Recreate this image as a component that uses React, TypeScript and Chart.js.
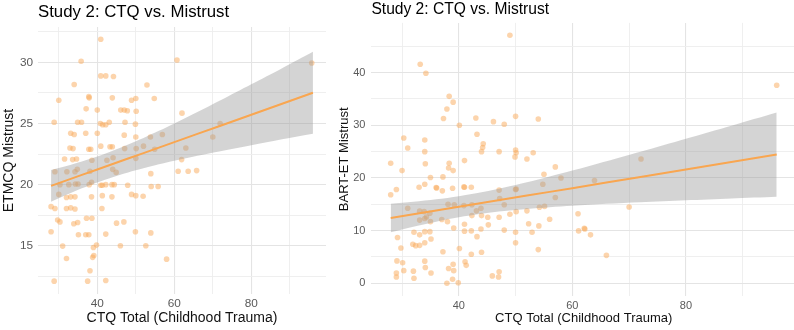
import { useEffect, useRef } from "react";
import { Chart, registerables } from "chart.js";

Chart.register(...registerables);

const FONT = '"Liberation Sans", Arial, Helvetica, sans-serif';
const POINT_COLOR = "rgba(250, 170, 90, 0.5)";
const FIT_COLOR = "#F9A650";
const BAND_COLOR = "rgba(153, 153, 153, 0.42)";
const GRID_MAJOR = "#E4E4E4";
const GRID_MINOR = "#EDEDED";
const TICK_COLOR = "#5A5A5A";

// Study 2, ETMCQ mistrust against CTQ total
const etmcqCtq = [
  40.9, 35.8, 60.7, 95.7, 34.0, 40.9, 42.2, 44.2, 52.9, 30.0,
  37.8, 37.9, 43.9, 54.8, 48.9, 50.0, 37.1, 40.0, 46.1, 47.0,
  47.8, 50.1, 62.0, 28.8, 34.9, 35.9, 40.8, 41.4, 42.2, 43.1,
  47.2, 49.9, 71.9, 33.1, 34.0, 37.0, 40.0, 47.0, 50.0, 53.8,
  56.9, 70.0, 32.9, 33.7, 37.8, 38.3, 40.9, 43.3, 43.9, 47.1,
  50.1, 52.0, 54.9, 63.0, 31.5, 33.6, 34.6, 38.6, 42.5, 44.1,
  50.0, 61.9, 29.0, 32.1, 34.2, 38.1, 34.8, 44.0, 44.9, 53.9,
  61.0, 63.6, 65.8, 30.3, 32.6, 34.3, 35.0, 37.9, 38.5, 40.9,
  41.3, 42.2, 43.8, 44.4, 47.9, 54.0, 55.8, 30.0, 32.0, 33.1,
  34.2, 38.5, 41.3, 43.8, 48.9, 50.0, 51.9, 28.0, 29.0, 32.0,
  33.1, 34.2, 41.2, 29.7, 30.3, 33.9, 34.9, 37.2, 38.6, 45.0,
  46.9, 28.0, 35.1, 37.0, 37.8, 42.2, 49.9, 53.9, 31.0, 39.8,
  39.0, 39.1, 38.8, 46.0, 52.6, 32.0, 58.0, 38.1, 28.8, 37.5,
  42.2,
];
const etmcqScore = [
  31.9, 30.1, 30.2, 29.95, 28.2, 28.9, 28.9, 28.85, 28.15, 26.9,
  27.2, 27.1, 27.1, 27.05, 26.9, 27.05, 26.2, 26.1, 26.1, 26.1,
  26.05, 26.0, 25.85, 25.1, 25.1, 25.1, 25.0, 24.9, 24.9, 25.1,
  25.1, 24.95, 25.0, 24.2, 24.1, 24.2, 24.2, 24.05, 23.9, 23.9,
  24.1, 23.9, 23.0, 22.95, 22.9, 22.9, 23.15, 23.1, 23.1, 22.95,
  22.95, 23.15, 22.9, 23.0, 22.1, 22.05, 22.1, 22.0, 22.0, 22.2,
  22.15, 22.05, 21.05, 21.05, 21.05, 21.1, 21.25, 21.25, 21.0, 20.9,
  21.1, 21.1, 21.15, 20.0, 20.0, 20.05, 20.05, 20.0, 20.2, 19.95,
  19.95, 20.0, 20.0, 20.0, 19.95, 19.85, 19.85, 19.2, 18.95, 19.0,
  19.0, 19.0, 19.1, 19.0, 19.2, 19.1, 19.05, 18.2, 18.05, 18.05,
  18.1, 18.0, 18.05, 17.1, 16.95, 16.8, 16.9, 17.25, 17.25, 16.85,
  16.95, 16.15, 15.9, 15.9, 15.9, 15.95, 16.15, 16.05, 14.97, 15.05,
  14.85, 14.2, 14.05, 15.0, 15.0, 13.95, 13.9, 12.95, 12.1, 12.1,
  12.15,
];

// Linear fit and 95% band, sampled along CTQ
const fitCtq = [28, 32, 36, 40, 44, 48, 52, 56, 60, 66, 72, 80, 88, 96];
const etmcqFit = [19.9, 20.35, 20.8, 21.24, 21.69, 22.14, 22.58, 23.03, 23.48, 24.15, 24.82, 25.72, 26.62, 27.52];
const etmcqUpper = [21.2, 21.53, 21.9, 22.3, 22.77, 23.28, 23.82, 24.4, 25.01, 25.94, 26.9, 28.21, 29.53, 30.87];
const etmcqLower = [18.6, 19.17, 19.7, 20.18, 20.61, 21.0, 21.34, 21.66, 21.95, 22.36, 22.74, 23.23, 23.71, 24.17];

// Study 2, BART-ET mistrust against CTQ total
const bartCtq = [
  49.0, 33.2, 34.2, 38.3, 39.0, 37.9, 37.3, 43.0, 50.0, 54.0,
  46.1, 48.0, 40.1, 96.0, 30.3, 31.0, 34.0, 34.0, 43.2, 44.3,
  44.2, 44.0, 47.1, 50.0, 50.1, 49.9, 53.1, 52.0, 41.0, 72.1,
  28.0, 30.0, 34.1, 38.3, 38.2, 39.0, 35.0, 37.2, 55.0, 57.0,
  58.0, 63.9, 29.0, 28.0, 33.0, 34.0, 36.0, 36.1, 37.1, 38.9,
  41.0, 40.9, 42.2, 47.1, 50.1, 50.0, 54.8, 47.2, 57.0, 31.0,
  33.1, 33.9, 34.9, 34.3, 34.0, 33.1, 38.1, 39.2, 40.9, 42.3,
  43.9, 43.1, 44.0, 45.1, 42.3, 37.0, 38.0, 35.0, 48.0, 54.2,
  55.1, 52.0, 50.1, 49.0, 47.1, 56.0, 52.3, 54.1, 48.0, 50.0,
  52.9, 50.0, 54.0, 61.0, 61.1, 62.1, 62.2, 63.2, 66.0, 70.0,
  39.1, 41.0, 41.0, 42.2, 43.9, 45.2, 32.1, 33.1, 34.0, 34.9,
  29.2, 35.1, 43.2, 31.9, 32.4, 33.1, 34.0, 29.8, 37.2, 40.1,
  42.2, 44.0, 29.1, 30.1, 34.0, 34.1, 35.1, 30.3, 32.0, 32.1,
  29.0, 29.0, 38.2, 39.0, 39.1, 38.9, 39.9, 37.9, 41.1, 41.3,
  45.9, 47.1, 47.0,
];
const bartScore = [
  47.1, 41.6, 39.9, 35.5, 34.4, 33.1, 31.3, 31.4, 31.7, 31.2,
  30.7, 30.2, 30.0, 37.6, 27.6, 25.7, 27.2, 25.0, 28.3, 26.5,
  25.8, 25.0, 25.0, 25.3, 24.8, 24.0, 24.8, 23.6, 23.3, 23.6,
  22.8, 21.4, 22.7, 22.8, 21.9, 21.4, 20.1, 20.2, 20.7, 22.1,
  20.0, 19.5, 17.8, 16.8, 18.25, 18.8, 18.2, 18.1, 17.55, 18.05,
  18.25, 18.3, 18.25, 17.7, 17.9, 17.8, 18.8, 16.1, 16.3, 14.25,
  13.7, 13.6, 13.3, 12.6, 12.3, 12.0, 15.0, 14.9, 14.75, 14.9,
  14.25, 13.75, 12.85, 12.55, 12.85, 12.1, 11.7, 11.7, 14.9, 14.45,
  14.6, 13.75, 13.6, 13.1, 12.55, 12.15, 11.3, 10.9, 10.1, 9.7,
  9.7, 7.7, 6.4, 13.2, 9.95, 10.45, 10.3, 9.2, 5.3, 14.5,
  10.5, 11.2, 9.9, 9.95, 10.3, 11.1, 9.7, 9.2, 9.8, 9.8,
  8.7, 8.4, 8.85, 7.4, 7.15, 7.2, 7.7, 6.7, 6.0, 6.6,
  5.5, 5.9, 4.25, 3.9, 4.2, 3.0, 1.95, 2.4, 2.3, 0.95,
  1.95, 1.2, 2.8, 3.6, 2.4, 0.75, 0.1, 0.0, 4.1, 3.4,
  1.4, 2.2, 1.2,
];
const bartFit = [12.4, 13.11, 13.82, 14.52, 15.23, 15.94, 16.65, 17.36, 18.06, 19.13, 20.19, 21.61, 23.02, 24.44];
const bartUpper = [15.11, 15.48, 15.94, 16.53, 17.27, 18.17, 19.18, 20.27, 21.4, 23.18, 24.99, 27.46, 29.93, 32.44];
const bartLower = [9.69, 10.74, 11.7, 12.52, 13.19, 13.71, 14.12, 14.45, 14.72, 15.08, 15.39, 15.76, 16.11, 16.44];

// Axis breaks (major breaks carry labels, minor ones only grid lines)
const xBreaks = [30, 40, 50, 60, 70, 80, 90];
const etmcqBreaks = [12.5, 15, 17.5, 20, 22.5, 25, 27.5, 30, 32.5];
const bartBreaks = [0, 5, 10, 15, 20, 25, 30, 35, 40, 45];

type PanelSpec = {
  title: string;
  titleSize: number;
  titleBaseline: number;
  xTitle: string;
  yTitle: string;
  axisTitleSize: number;
  tickSize: number;
  xs: number[];
  ys: number[];
  fit: number[];
  upper: number[];
  lower: number[];
  xMin: number;
  xMax: number;
  yMin: number;
  yMax: number;
  yBreaks: number[];
  yMajor: number;
  xMajor: number;
  areaTop: number;
  areaRight: number;
  yAxisWidth: number;
  xAxisHeight: number;
  yTickPad: number;
  xTickPad: number;
  yTitlePad: number;
  xTitlePad: number;
};

function isMajor(v: number, step: number) {
  return Math.abs(v / step - Math.round(v / step)) < 1e-6;
}

function buildChart(canvas: HTMLCanvasElement, p: PanelSpec) {
  const titlePlugin = {
    id: "panelTitle",
    afterDraw(chart: any) {
      const { ctx, chartArea } = chart;
      ctx.save();
      ctx.font = `${p.titleSize}px ${FONT}`;
      ctx.fillStyle = "#000000";
      ctx.textAlign = "left";
      ctx.textBaseline = "alphabetic";
      ctx.fillText(p.title, chartArea.left, p.titleBaseline);
      ctx.restore();
    },
  };

  return new Chart(canvas, {
    type: "line",
    data: {
      datasets: [
        {
          label: "fit",
          data: fitCtq.map((x, i) => ({ x, y: p.fit[i] })),
          borderColor: FIT_COLOR,
          borderWidth: 2,
          pointRadius: 0,
          fill: false,
          tension: 0,
          order: 0,
        },
        {
          label: "upper",
          data: fitCtq.map((x, i) => ({ x, y: p.upper[i] })),
          borderColor: "rgba(0,0,0,0)",
          borderWidth: 1,
          backgroundColor: BAND_COLOR,
          pointRadius: 0,
          fill: "+1",
          tension: 0.3,
          order: 1,
        },
        {
          label: "lower",
          data: fitCtq.map((x, i) => ({ x, y: p.lower[i] })),
          borderColor: "rgba(0,0,0,0)",
          borderWidth: 1,
          pointRadius: 0,
          fill: false,
          tension: 0.3,
          order: 1,
        },
        {
          label: "points",
          data: p.xs.map((x, i) => ({ x, y: p.ys[i] })),
          showLine: false,
          pointRadius: 2.8,
          pointBackgroundColor: POINT_COLOR,
          pointBorderColor: "rgba(0,0,0,0)",
          pointBorderWidth: 0,
          order: 2,
        },
      ],
    },
    options: {
      responsive: false,
      maintainAspectRatio: false,
      animation: false,
      devicePixelRatio: 1,
      layout: { padding: { top: p.areaTop, left: 0, right: p.areaRight, bottom: 0 } },
      plugins: {
        legend: { display: false },
        tooltip: { enabled: false },
        title: { display: false },
      },
      scales: {
        x: {
          type: "linear",
          min: p.xMin,
          max: p.xMax,
          afterBuildTicks: (s: any) => {
            s.ticks = xBreaks.map((v) => ({ value: v }));
          },
          afterFit: (s: any) => {
            s.height = p.xAxisHeight;
          },
          ticks: {
            autoSkip: false,
            maxRotation: 0,
            padding: p.xTickPad,
            color: TICK_COLOR,
            font: { family: FONT, size: p.tickSize },
            callback: (v: any) => (isMajor(Number(v), p.xMajor) ? String(v) : ""),
          },
          grid: {
            drawTicks: false,
            color: (c: any) => (c.tick && isMajor(c.tick.value, p.xMajor) ? GRID_MAJOR : GRID_MINOR),
            lineWidth: (c: any) => (c.tick && isMajor(c.tick.value, p.xMajor) ? 1.1 : 0.9),
          },
          border: { display: false },
          title: {
            display: true,
            text: p.xTitle,
            color: "#111111",
            font: { family: FONT, size: p.axisTitleSize },
            padding: { top: 0, bottom: p.xTitlePad },
          },
        },
        y: {
          type: "linear",
          min: p.yMin,
          max: p.yMax,
          afterBuildTicks: (s: any) => {
            s.ticks = p.yBreaks.map((v) => ({ value: v }));
          },
          afterFit: (s: any) => {
            s.width = p.yAxisWidth;
          },
          ticks: {
            autoSkip: false,
            padding: p.yTickPad,
            color: TICK_COLOR,
            font: { family: FONT, size: p.tickSize },
            callback: (v: any) => (isMajor(Number(v), p.yMajor) ? String(v) : ""),
          },
          grid: {
            drawTicks: false,
            color: (c: any) => (c.tick && isMajor(c.tick.value, p.yMajor) ? GRID_MAJOR : GRID_MINOR),
            lineWidth: (c: any) => (c.tick && isMajor(c.tick.value, p.yMajor) ? 1.1 : 0.9),
          },
          border: { display: false },
          title: {
            display: true,
            text: p.yTitle,
            color: "#111111",
            font: { family: FONT, size: p.axisTitleSize },
            padding: { top: p.yTitlePad, bottom: 0 },
          },
        },
      },
    },
    plugins: [titlePlugin],
  } as any);
}

const leftPanel: PanelSpec = {
  title: "Study 2: CTQ vs. Mistrust",
  titleSize: 16.8,
  titleBaseline: 17,
  xTitle: "CTQ Total (Childhood Trauma)",
  yTitle: "ETMCQ Mistrust",
  axisTitleSize: 14,
  tickSize: 11.8,
  xs: etmcqCtq,
  ys: etmcqScore,
  fit: etmcqFit,
  upper: etmcqUpper,
  lower: etmcqLower,
  xMin: 24.6,
  xMax: 99.4,
  yMin: 11.05,
  yMax: 32.9,
  yBreaks: etmcqBreaks,
  yMajor: 5,
  xMajor: 20,
  areaTop: 27,
  areaRight: 4,
  yAxisWidth: 38,
  xAxisHeight: 36,
  yTickPad: 5,
  xTickPad: 3,
  yTitlePad: 1,
  xTitlePad: 3.6,
};

const rightPanel: PanelSpec = {
  title: "Study 2: CTQ vs. Mistrust",
  titleSize: 15.6,
  titleBaseline: 13.5,
  xTitle: "CTQ Total (Childhood Trauma)",
  yTitle: "BART-ET Mistrust",
  axisTitleSize: 13,
  tickSize: 11,
  xs: bartCtq,
  ys: bartScore,
  fit: bartFit,
  upper: bartUpper,
  lower: bartLower,
  xMin: 24.6,
  xMax: 99.4,
  yMin: -2.36,
  yMax: 49.45,
  yBreaks: bartBreaks,
  yMajor: 10,
  xMajor: 20,
  areaTop: 22.9,
  areaRight: 0,
  yAxisWidth: 36.4,
  xAxisHeight: 34.3,
  yTickPad: 6,
  xTickPad: 4,
  yTitlePad: 1.2,
  xTitlePad: 4.2,
};

export default function App() {
  const leftRef = useRef<HTMLCanvasElement | null>(null);
  const rightRef = useRef<HTMLCanvasElement | null>(null);

  useEffect(() => {
    const charts: Chart[] = [];
    if (leftRef.current) charts.push(buildChart(leftRef.current, leftPanel));
    if (rightRef.current) charts.push(buildChart(rightRef.current, rightPanel));
    return () => {
      charts.forEach((c) => c.destroy());
    };
  }, []);

  return (
    <div
      style={{
        position: "fixed",
        left: 0,
        top: 0,
        width: 794,
        height: 330,
        overflow: "hidden",
        background: "#ffffff",
      }}
    >
      <canvas
        ref={leftRef}
        width={330}
        height={330}
        style={{ position: "absolute", left: 0, top: 0, width: 330, height: 330 }}
      />
      <canvas
        ref={rightRef}
        width={465}
        height={330}
        style={{ position: "absolute", left: 335, top: 0, width: 465, height: 330 }}
      />
    </div>
  );
}
